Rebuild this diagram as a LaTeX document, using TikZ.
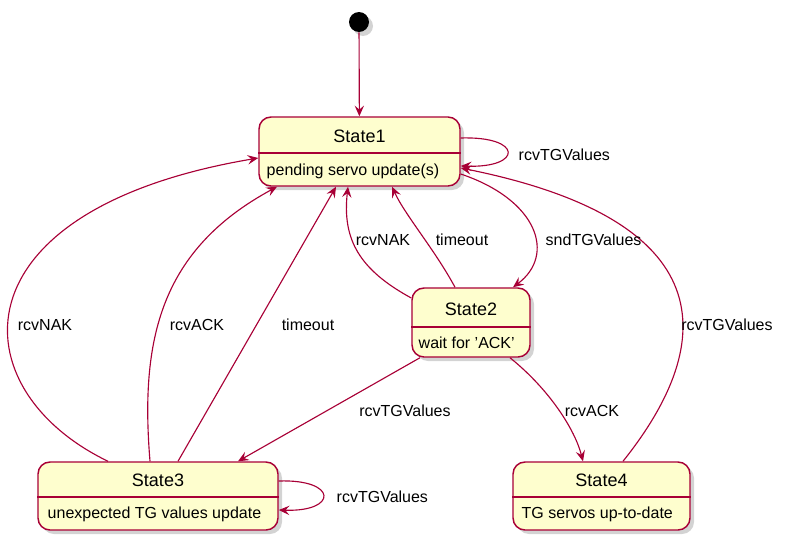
\documentclass[tikz,border=0pt]{standalone}
\usepackage{fontspec}
\setmainfont{Liberation Sans}
\usetikzlibrary{arrows.meta,shadows}
\definecolor{umlfill}{RGB}{254,254,206}
\definecolor{umlred}{RGB}{168,0,54}

\begin{document}
\begin{tikzpicture}[x=0.75pt,y=-0.75pt,
    state/.style={draw=umlred, fill=umlfill, line width=1.1pt, rounded corners=9pt,
      drop shadow={shadow xshift=3pt, shadow yshift=-3pt, opacity=0.35}},
    divider/.style={draw=umlred, line width=1.1pt},
    title/.style={font=\fontsize{13.5}{16}\selectfont},
    body/.style={font=\fontsize{12}{14}\selectfont, anchor=west},
    lbl/.style={font=\fontsize{12}{14}\selectfont},
    edge/.style={draw=umlred, line width=0.85pt, -{Stealth[length=8pt,width=7pt,inset=3pt]}}]
        \useasboundingbox (0,0) rectangle (790,543);
        \node[circle, fill=black, minimum size=15pt, inner sep=0pt,
          drop shadow={shadow xshift=3pt, shadow yshift=-3pt, opacity=0.35}] (start) at (359,22) {};
        \node[state, minimum width=150.75pt, minimum height=51.75pt] (s1) at (359.5,151.5) {};
        \node[state, minimum width=88.5pt, minimum height=51.75pt] (s2) at (471,322.5) {};
        \node[state, minimum width=180pt, minimum height=51pt] (s3) at (158,496) {};
        \node[state, minimum width=132.75pt, minimum height=51pt] (s4) at (601.5,496) {};
        \draw[divider] (s1.west |- 0,153) -- (s1.east |- 0,153);
        \draw[divider] (s2.west |- 0,327) -- (s2.east |- 0,327);
        \draw[divider] (s3.west |- 0,497) -- (s3.east |- 0,497);
        \draw[divider] (s4.west |- 0,497) -- (s4.east |- 0,497);
        \node[title] (s1t) at (359.5,136) {State1};
        \node[title] (s2t) at (471,309) {State2};
        \node[title] (s3t) at (158,480) {State3};
        \node[title] (s4t) at (601.5,480) {State4};
        \node[body] (s1b) at (262,171) {pending servo update(s)};
        \node[body] (s2b) at (414,343) {wait for 'ACK'};
        \node[body] (s3b) at (43,514) {unexpected TG values update};
        \node[body] (s4b) at (517,514) {TG servos up-to-date};
        \draw[edge] (start) -- (s1);
        \draw[edge] (s1.east |- 0,138) .. controls (523,136) and (523,168) .. (s1.east |- 0,166);
        \draw[edge] (s1.east |- 0,174) .. controls (538,200) and (556,255) .. (s2.north -| 513,0);
        \draw[edge] (s2.west |- 0,298) .. controls (360,270) and (342,240) .. (s1.south -| 348,0);
        \draw[edge] (s2.north -| 455,0) .. controls (435,250) and (405,215) .. (s1.south -| 392,0);
        \draw[edge] (s2.south -| 420,0) -- (s3.north -| 238,0);
        \draw[edge] (s2.south -| 510,0) .. controls (550,390) and (575,430) .. (s4.north -| 583,0);
        \draw[edge] (s3.north -| 108,0) .. controls (-40,390) and (-50,210) .. (s1.west |- 0,158);
        \draw[edge] (s3.north -| 150,0) .. controls (140,340) and (160,250) .. (s1.south -| 277,0);
        \draw[edge] (s3.north -| 178,0) -- (s1.south -| 336,0);
        \draw[edge] (s3.east |- 0,481) .. controls (338,479) and (338,512) .. (s3.east |- 0,510);
        \draw[edge] (s4.north -| 623,0) .. controls (720,340) and (720,220) .. (s1.east |- 0,168);
        \node[lbl, anchor=west] (l1) at (514,155) {rcvTGValues};
        \node[lbl, anchor=west] (l2) at (541,240) {sndTGValues};
        \node[lbl] (l3) at (383,240) {rcvNAK};
        \node[lbl] (l4) at (462,240) {timeout};
        \node[lbl] (l5) at (405,411) {rcvTGValues};
        \node[lbl] (l6) at (592,411) {rcvACK};
        \node[lbl] (l7) at (45,325) {rcvNAK};
        \node[lbl] (l8) at (197,325) {rcvACK};
        \node[lbl] (l9) at (308,325) {timeout};
        \node[lbl, anchor=west] (l10) at (332,497) {rcvTGValues};
        \node[lbl] (l11) at (727,325) {rcvTGValues};
      \end{tikzpicture}
\end{document}
